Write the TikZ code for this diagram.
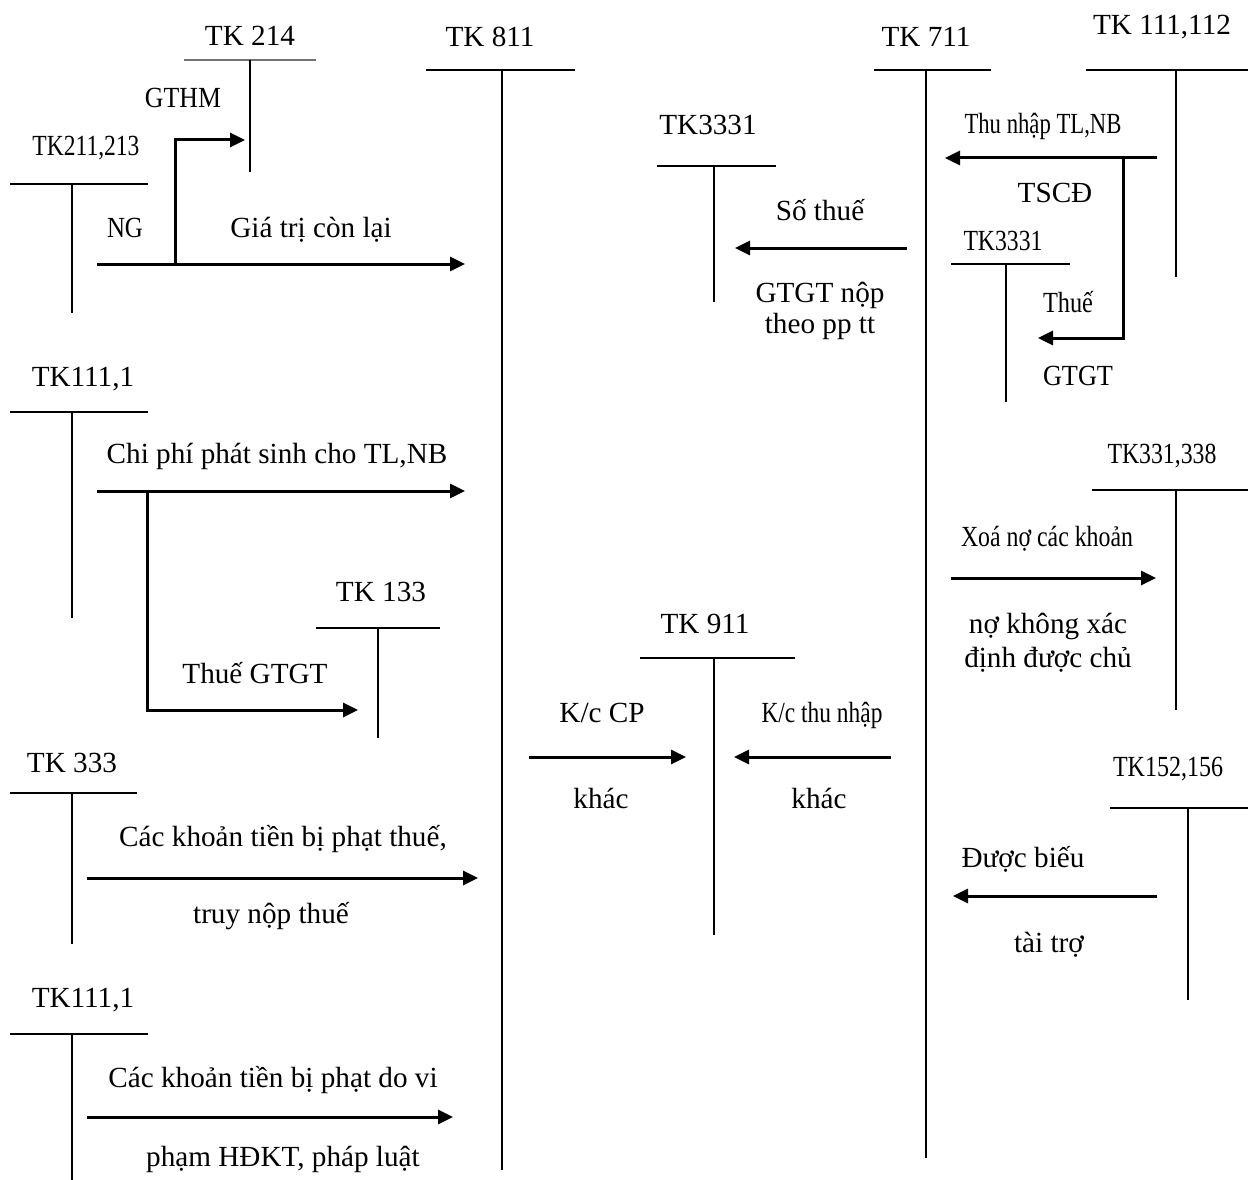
\documentclass[tikz,border=0pt]{standalone}
\usepackage{fontspec}
\setmainfont{Liberation Serif}
\usepackage{graphicx}
\usetikzlibrary{arrows.meta}

% squeeze a label horizontally to a given width (pt), keeping its height
\newcommand{\squeezed}[2]{\resizebox{#1pt}{\height}{#2}}

% T-account: top bar from x1 to x2 at height y, stem at xs down to yb
\newcommand{\tacct}[6][]{%
  \draw[acct,#1] (#2,#5) -- (#3,#5);
  \draw[acct] (#4,#5) -- (#4,#6);}

\tikzset{
  lbl/.style={anchor=base, inner sep=0pt, font=\fontsize{29.2}{35}\selectfont},
  acct/.style={line width=1.8pt},
  flow/.style={line width=3pt, -{Triangle[length=15pt,width=14pt]}},
  elbow/.style={flow, line join=miter},
}

\begin{document}
\begin{tikzpicture}[x=1pt, y=-1pt]
\useasboundingbox (0,0) rectangle (1248,1180);

% ---- T-accounts ----
\tacct[line width=1.2pt, black!55]{184}{316}{250}{60}{172}   % TK 214
\tacct{10}{148}{72}{184}{313}      % TK211,213
\tacct{426}{575}{502}{70}{1170}    % TK 811
\tacct{874}{991}{926}{70}{1158}    % TK 711
\tacct{1086}{1248}{1176}{70}{277}  % TK 111,112
\tacct{657}{776}{714}{166}{302}    % TK3331 (left)
\tacct{951}{1070}{1006}{264}{402}  % TK3331 (right)
\tacct{10}{148}{72}{412}{618}      % TK111,1
\tacct{316}{440}{378}{628}{738}    % TK 133
\tacct{1092}{1248}{1176}{490}{710} % TK331,338
\tacct{640}{795}{714}{658}{935}    % TK 911
\tacct{1110}{1248}{1188}{808}{1000}% TK152,156
\tacct{10}{137}{72}{793}{944}      % TK 333
\tacct{10}{148}{72}{1034}{1180}    % TK111,1 (lower)

% ---- account titles ----
\node[lbl] (h214)  at (250,46)  {TK 214};
\node[lbl] (h811)  at (490,47)  {TK 811};
\node[lbl] (h711)  at (926,47)  {TK 711};
\node[lbl] (h111)  at (1162,35) {TK 111,112};
\node[lbl] (h211)  at (86,156)  {\squeezed{107}{TK211,213}};
\node[lbl] (h3331a) at (708,135) {TK3331};
\node[lbl] (h3331b) at (1003,250) {\squeezed{79}{TK3331}};
\node[lbl] (h1111a) at (83,386) {TK111,1};
\node[lbl] (h133)  at (381,601) {TK 133};
\node[lbl] (h331)  at (1162,463) {\squeezed{109}{TK331,338}};
\node[lbl] (h911)  at (705,633) {TK 911};
\node[lbl] (h152)  at (1168,776) {\squeezed{110}{TK152,156}};
\node[lbl] (h333)  at (72,772)  {TK 333};
\node[lbl] (h1111b) at (83,1007) {TK111,1};

% ---- flow end points ----
\coordinate (a1s) at (97,264);   \coordinate (a1e) at (465,264);
\coordinate (a1b) at (175,264);  \coordinate (a1t) at (245,140);
\coordinate (a2s) at (1157,158); \coordinate (a2e) at (945,158);
\coordinate (a2b) at (1123,158); \coordinate (a2t) at (1038,338);
\coordinate (a3s) at (907,248);  \coordinate (a3e) at (735,248);
\coordinate (a4s) at (97,491);   \coordinate (a4e) at (465,491);
\coordinate (a4b) at (147,491);  \coordinate (a4t) at (358,710);
\coordinate (a5s) at (951,578);  \coordinate (a5e) at (1156,578);
\coordinate (a6s) at (529,757);  \coordinate (a6e) at (686,757);
\coordinate (a7s) at (891,757);  \coordinate (a7e) at (734,757);
\coordinate (a8s) at (1157,896); \coordinate (a8e) at (953,896);
\coordinate (a9s) at (87,878);   \coordinate (a9e) at (478,878);
\coordinate (a10s) at (87,1117); \coordinate (a10e) at (453,1117);

% ---- flows ----
\draw[flow] (a1s) -- (a1e);
\draw[elbow] (a1b) |- (a1t);
\draw[flow] (a2s) -- (a2e);
\draw[elbow] (a2b) |- (a2t);
\draw[flow] (a3s) -- (a3e);
\draw[flow] (a4s) -- (a4e);
\draw[elbow] (a4b) |- (a4t);
\draw[flow] (a5s) -- (a5e);
\draw[flow] (a6s) -- (a6e);
\draw[flow] (a7s) -- (a7e);
\draw[flow] (a8s) -- (a8e);
\draw[flow] (a9s) -- (a9e);
\draw[flow] (a10s) -- (a10e);

% ---- flow labels ----
\node[lbl] (l1a) at (183,108) {\squeezed{76}{GTHM}};
\node[lbl] (l1b) at (125,237) {\squeezed{36}{NG}};
\node[lbl] (l1c) at (311,237) {Giá trị còn lại};
\node[lbl] (l2a) at (1043,133) {\squeezed{157}{Thu nhập TL,NB}};
\node[lbl] (l2b) at (1055,203) {TSCĐ};
\node[lbl] (l2c) at (1068,312) {\squeezed{50}{Thuế}};
\node[lbl] (l2d) at (1078,385) {\squeezed{70}{GTGT}};
\node[lbl] (l3a) at (820,220) {Số thuế};
\node[lbl] (l3b) at (820,302) {GTGT nộp};
\node[lbl] (l3c) at (820,333) {theo pp tt};
\node[lbl] (l4a) at (277,463) {Chi phí phát sinh cho TL,NB};
\node[lbl] (l4b) at (255,683) {Thuế GTGT};
\node[lbl] (l5a) at (1047,546) {\squeezed{172}{Xoá nợ các khoản}};
\node[lbl] (l5b) at (1048,633) {nợ không xác};
\node[lbl] (l5c) at (1048,667) {định được chủ};
\node[lbl] (l6a) at (602,722) {K/c CP};
\node[lbl] (l6b) at (601,808) {khác};
\node[lbl] (l7a) at (822,722) {\squeezed{121}{K/c thu nhập}};
\node[lbl] (l7b) at (819,808) {khác};
\node[lbl] (l8a) at (1023,867) {Được biếu};
\node[lbl] (l8b) at (1049,952) {tài trợ};
\node[lbl] (l9a) at (283,846) {Các khoản tiền bị phạt thuế,};
\node[lbl] (l9b) at (271,923) {truy nộp thuế};
\node[lbl] (l10a) at (273,1087) {Các khoản tiền bị phạt do vi};
\node[lbl] (l10b) at (283,1166) {phạm HĐKT, pháp luật};
\end{tikzpicture}
\end{document}
